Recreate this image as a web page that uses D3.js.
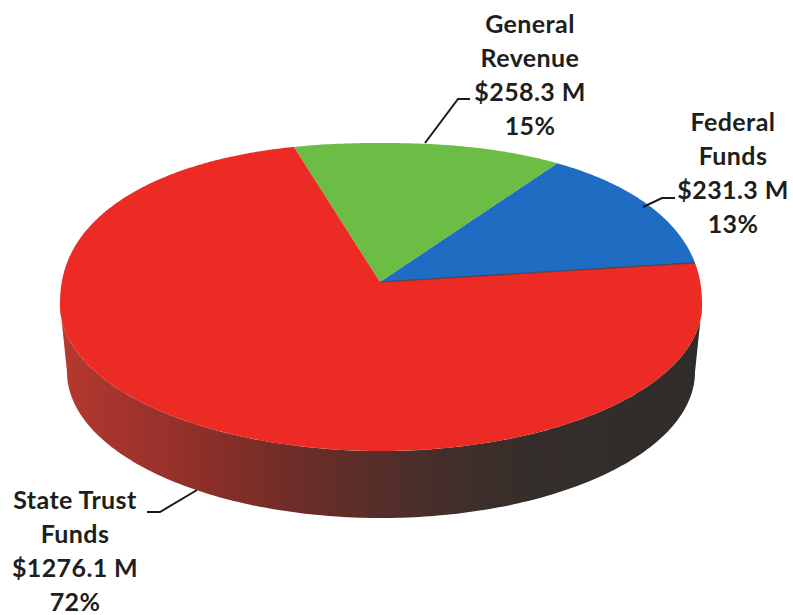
<!DOCTYPE html>
<html>
<head>
<meta charset="utf-8">
<script src="https://cdn.jsdelivr.net/npm/d3@7"></script>
<style>
  html, body { margin: 0; padding: 0; background: #ffffff; }
  svg { display: block; }
  text { font-family: Lato, "Open Sans", sans-serif; font-weight: 700; fill: #1e1e1e; letter-spacing: 0.4px; }
</style>
</head>
<body>
<svg id="chart" width="793" height="615"></svg>
<script>
// ---- data ----
const categories = ["General Revenue", "Federal Funds", "State Trust Funds"];
const nameLines  = [["General", "Revenue"], ["Federal", "Funds"], ["State Trust", "Funds"]];
const values     = [258.3, 231.3, 1276.1];   // $ millions
const colors     = ["#6bbd45", "#1f6dc2", "#ed2b25"];

// ---- layout ----
const W = 793, H = 615;
const hub = [380, 282];            // point where the slices meet
const rimC = [381, 305];           // centre of the rim outline
const rimA = 321;                  // half width of the top face
const rimTop = 162, rimBot = 146;  // far / near half heights of the top face
const topExp = 2.25;               // far half is slightly squarer than an ellipse
const depth = 67, baseA = 314;     // thickness of the disc and width of its base
const squash = 0.48;               // vertical foreshortening of slice directions
const startAngle = -17 * Math.PI / 180;

// label blocks: centre x, first baseline, leader polyline
const labelLayout = [
  { x: 530, y: 33,  leader: [[425, 143], [458, 99], [470, 99]] },
  { x: 733, y: 131, leader: [[643, 207], [662, 198], [675, 198]] },
  { x: 75,  y: 509, leader: [[197, 490], [160, 512], [147, 512]] }
];
const lineGap = 34;

const svg = d3.select("#chart");
const total = d3.sum(values);

// is a screen point inside the top face outline?
function insideTop(x, y) {
  const dx = Math.abs(x - rimC[0]) / rimA;
  const dy = y - rimC[1];
  if (dy < 0) return Math.pow(dx, topExp) + Math.pow(-dy / rimTop, topExp) <= 1;
  return dx * dx + (dy / rimBot) * (dy / rimBot) <= 1;
}

// screen point on the rim for a pie angle (clockwise from the far side)
function rimPoint(a) {
  let dx = Math.sin(a), dy = -squash * Math.cos(a);
  const n = Math.hypot(dx, dy); dx /= n; dy /= n;
  let lo = 0, hi = 600;
  for (let i = 0; i < 40; i++) {
    const m = (lo + hi) / 2;
    if (insideTop(hub[0] + dx * m, hub[1] + dy * m)) lo = m; else hi = m;
  }
  return [hub[0] + dx * lo, hub[1] + dy * lo];
}

const pie = d3.pie().sort(null).value(d => d)
  .startAngle(startAngle).endAngle(startAngle + 2 * Math.PI);
const arcs = pie(values);
const line = d3.line();

// ---- side of the disc ----
const defs = svg.append("defs");
const grad = defs.append("linearGradient").attr("id", "sideShade")
  .attr("gradientUnits", "userSpaceOnUse")
  .attr("x1", rimC[0] - rimA).attr("x2", rimC[0] + rimA).attr("y1", 0).attr("y2", 0);
[[0, "#b8392f"], [0.06, "#a9362e"], [0.22, "#8f2f29"], [0.37, "#6e2c27"],
 [0.56, "#4a2e2a"], [0.72, "#352e2b"], [1, "#2f2c2a"]]
  .forEach(([o, c]) => grad.append("stop").attr("offset", o).attr("stop-color", c));

const sidePts = [];
d3.range(0, 181).forEach(i => {           // near half of the top rim, left to right
  const p = Math.PI - i * Math.PI / 180;
  sidePts.push([rimC[0] + rimA * Math.cos(p), rimC[1] + rimBot * Math.sin(p)]);
});
d3.range(0, 181).forEach(i => {           // near half of the base rim, right to left
  const p = i * Math.PI / 180;
  sidePts.push([rimC[0] + baseA * Math.cos(p), rimC[1] + depth + rimBot * Math.sin(p)]);
});
svg.append("path").attr("d", line(sidePts) + "Z").attr("fill", "url(#sideShade)");

// ---- top face slices ----
const step = Math.PI / 360;
svg.append("g").selectAll("path").data(arcs).join("path")
  .attr("d", d => {
    const pts = [hub];
    for (let a = d.startAngle; a < d.endAngle; a += step) pts.push(rimPoint(a));
    pts.push(rimPoint(d.endAngle));
    return line(pts) + "Z";
  })
  .attr("fill", (d, i) => colors[i]);

// thin dark seam where the blue slice meets the red one
svg.append("path")
  .attr("d", line([hub, rimPoint(arcs[1].endAngle)]))
  .attr("stroke", "#3a2b2b").attr("stroke-width", 1.2).attr("stroke-opacity", 0.7)
  .attr("fill", "none");

// ---- labels ----
const lg = svg.append("g");
arcs.forEach((d, i) => {
  const L = labelLayout[i];
  lg.append("path").attr("d", line(L.leader))
    .attr("fill", "none").attr("stroke", "#1a1a1a").attr("stroke-width", 2);
  const pct = Math.round(values[i] / total * 100) + "%";
  const lines = nameLines[i].concat(["$" + values[i].toFixed(1) + " M", pct]);
  const t = lg.append("text").attr("text-anchor", "middle").attr("font-size", 25);
  lines.forEach((s, j) => t.append("tspan").attr("x", L.x).attr("y", L.y + j * lineGap).text(s));
});
</script>
</body>
</html>
